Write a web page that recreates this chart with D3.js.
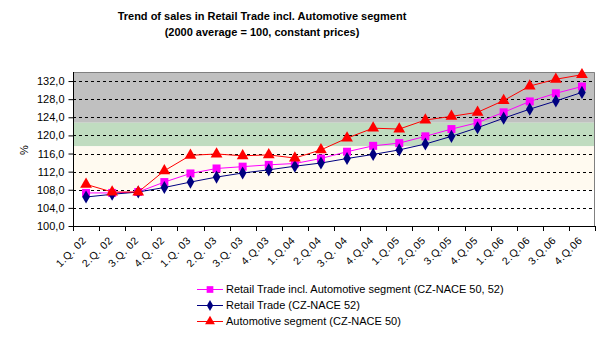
<!DOCTYPE html>
<html>
<head>
<meta charset="utf-8">
<script src="https://cdn.jsdelivr.net/npm/d3@7"></script>
<style>
  body { margin: 0; background: #fff; }
  text { font-family: "Liberation Sans", Arial, sans-serif; }
</style>
</head>
<body>
<div id="chart"></div>
<script>
var quarters = ["1.Q. 02", "2.Q. 02", "3.Q. 02", "4.Q. 02", "1.Q. 03", "2.Q. 03", "3.Q. 03", "4.Q.03",
  "1.Q.04", "2.Q.04", "3.Q. 04", "4.Q.04", "1.Q.05", "2.Q.05", "3.Q.05", "4.Q.05",
  "1.Q.06", "2.Q.06", "3.Q.06", "4.Q.06"];
var retailInclAuto = [107.3, 107.3, 107.5, 109.7, 111.6, 112.7, 113.1, 113.5, 113.8, 114.9,
  116.4, 117.7, 118.3, 119.8, 121.4, 122.8, 125.1, 127.5, 129.3, 130.8];
var retail = [106.4, 107.0, 107.5, 108.5, 109.7, 110.8, 111.7, 112.4, 113.2, 113.9,
  114.9, 115.8, 116.8, 118.1, 119.8, 121.7, 123.8, 125.8, 127.6, 129.5];
var automotive = [109.2, 107.5, 107.5, 112.2, 115.6, 115.9, 115.5, 115.7, 115.0, 116.8,
  119.4, 121.6, 121.4, 123.4, 124.2, 125.1, 127.7, 130.9, 132.4, 133.4];
var yTicks = [100, 104, 108, 112, 116, 120, 124, 128, 132];
// background bands (from, to)
var bands = [
  { from: 122.8, to: 134, color: "#c0c0c0" },
  { from: 117.6, to: 122.8, color: "#c0dcc0" },
  { from: 108, to: 117.6, color: "#fffaf0" }
];
var seriesNames = ["Retail Trade incl. Automotive segment (CZ-NACE 50, 52)",
  "Retail Trade (CZ-NACE 52)", "Automotive segment (CZ-NACE 50)"];

var width = 600, height = 348;
var pLeft = 73, pRight = 595, pTop = 72, pBottom = 226;

var svg = d3.select("#chart").append("svg")
  .attr("width", width)
  .attr("height", height);

var x = d3.scaleBand().domain(quarters).range([pLeft, pRight]);
var y = d3.scaleLinear().domain([100, 134]).range([pBottom, pTop]);

// title
svg.append("text").attr("x", 262).attr("y", 20).attr("text-anchor", "middle")
  .style("font-weight", "bold").style("font-size", "11px")
  .text("Trend of sales in Retail Trade incl. Automotive segment");
svg.append("text").attr("x", 262).attr("y", 36).attr("text-anchor", "middle")
  .style("font-weight", "bold").style("font-size", "11px")
  .text("(2000 average = 100, constant prices)");

// bands
svg.selectAll("rect.band").data(bands).enter().append("rect")
  .attr("class", "band")
  .attr("x", pLeft).attr("width", pRight - pLeft)
  .attr("y", d => y(d.to)).attr("height", d => y(d.from) - y(d.to))
  .attr("fill", d => d.color);

// grid
svg.selectAll("line.grid").data(yTicks.slice(1)).enter().append("line")
  .attr("x1", pLeft).attr("x2", pRight)
  .attr("y1", d => Math.round(y(d)) + 0.5).attr("y2", d => Math.round(y(d)) + 0.5)
  .attr("stroke", "#000").attr("stroke-dasharray", "3,3");

// plot border (top, right)
svg.append("path")
  .attr("d", "M" + pLeft + "," + (pTop + 0.5) + "H" + (pRight - 0.5) + "V" + pBottom)
  .attr("fill", "none").attr("stroke", "#808080");

// y axis
var yAxis = svg.append("g").attr("transform", "translate(" + (pLeft + 0.5) + ",0)")
  .call(d3.axisLeft(y).tickValues(yTicks).tickSize(5).tickPadding(4)
    .tickFormat(d => d3.format(".1f")(d).replace(".", ",")));
yAxis.select(".domain").attr("d", "M0," + pTop + "V" + pBottom).attr("stroke", "#000");
yAxis.selectAll("text").style("font-size", "11px").style("font-family", "'Liberation Sans', Arial, sans-serif").attr("fill", "#000");

svg.append("text").attr("transform", "translate(28,150) rotate(-90)")
  .attr("text-anchor", "middle").style("font-size", "11px").text("%");

// x axis
var xTickPos = quarters.map((q, i) => pLeft + i * x.step()).concat([pRight]);
svg.append("line").attr("x1", pLeft).attr("x2", pRight)
  .attr("y1", pBottom + 0.5).attr("y2", pBottom + 0.5).attr("stroke", "#000");
svg.selectAll("line.xtick").data(xTickPos).enter().append("line")
  .attr("x1", d => Math.round(d) + 0.5).attr("x2", d => Math.round(d) + 0.5)
  .attr("y1", pBottom).attr("y2", pBottom + 5).attr("stroke", "#000");
svg.selectAll("text.xlab").data(quarters).enter().append("text")
  .attr("text-anchor", "end")
  .attr("transform", d => "translate(" + (x(d) + x.bandwidth() / 2 + 1) + "," + (pBottom + 15) + ") rotate(-45)")
  .style("font-size", "10.5px").style("letter-spacing", "0.5px")
  .text(d => d);

// lines
var cx = (d, i) => x(quarters[i]) + x.bandwidth() / 2;
var line = d3.line().x(cx).y(d => y(d));

var series = [
  { name: seriesNames[0], values: retailInclAuto, color: "#ff00ff", symbol: d3.symbolSquare, size: 64 },
  { name: seriesNames[1], values: retail, color: "#000080", symbol: d3.symbolDiamond, size: 50 },
  { name: seriesNames[2], values: automotive, color: "#ff0000", symbol: d3.symbolTriangle, size: 60 }
];

series.forEach(s => {
  svg.append("path").datum(s.values)
    .attr("d", line).attr("fill", "none").attr("stroke", s.color).attr("stroke-width", 1);
  svg.selectAll(null).data(s.values).enter().append("path")
    .attr("d", d3.symbol().type(s.symbol).size(s.size))
    .attr("transform", (d, i) => "translate(" + cx(d, i) + "," + y(d) + ")")
    .attr("fill", s.color);
});

// legend
var legend = svg.append("g").attr("transform", "translate(197,289)");
series.forEach((s, i) => {
  var g = legend.append("g").attr("transform", "translate(0," + (i * 16) + ")");
  g.append("line").attr("x1", 0).attr("x2", 26).attr("y1", 0.5).attr("y2", 0.5)
    .attr("stroke", s.color);
  g.append("path").attr("d", d3.symbol().type(s.symbol).size(s.size * 0.7))
    .attr("transform", "translate(13,0.5)").attr("fill", s.color);
  g.append("text").attr("x", 29).attr("y", 4).style("font-size", "11px").text(s.name);
});
</script>
</body>
</html>
